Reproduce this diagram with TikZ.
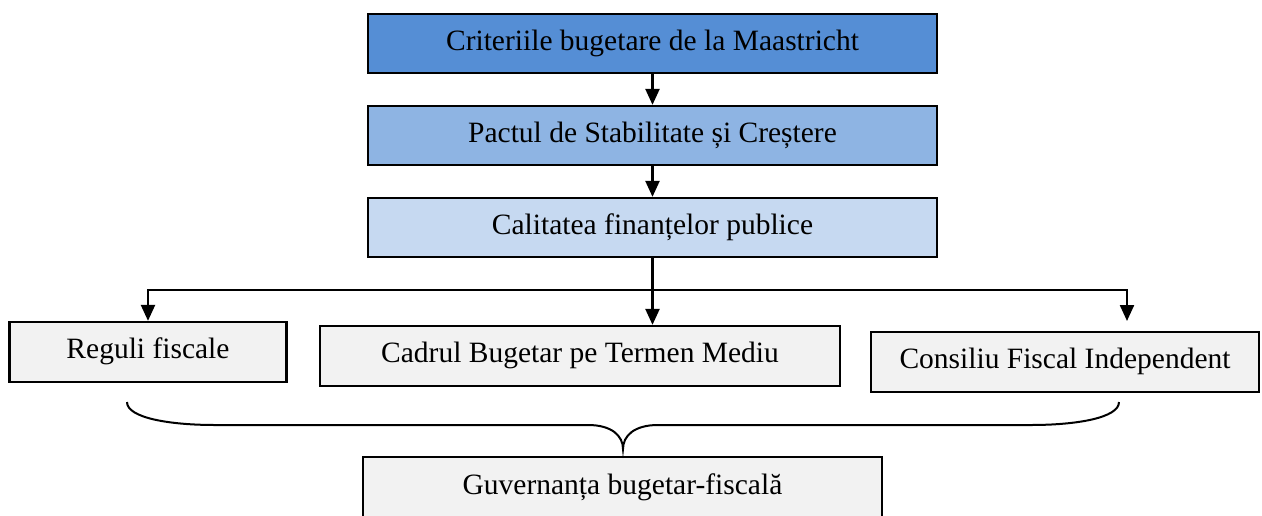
\documentclass[tikz,border=0pt]{standalone}
\usepackage{fontspec}
\setmainfont{Liberation Serif}
\usetikzlibrary{arrows.meta}
\definecolor{blueA}{HTML}{558ED5}
\definecolor{blueB}{HTML}{8EB4E3}
\definecolor{blueC}{HTML}{C6D9F1}
\definecolor{grayF}{HTML}{F2F2F2}
\tikzset{
  txt/.style={font=\fontsize{29.5}{34}\selectfont, text height=20pt, text depth=7pt, inner sep=0pt},
  boxnode/.style={txt, draw=black, line width=2.3pt},
  topbox/.style={boxnode, minimum width=569pt, minimum height=59pt},
  arr/.style={line width=2.3pt, -{Triangle[width=14pt,length=16pt]}},
  plain/.style={line width=2.3pt},
  bracepath/.style={line width=2pt}
}
\begin{document}
\begin{tikzpicture}[x=1pt,y=-1pt]
\useasboundingbox (0,0) rectangle (1262,515);
\node[topbox, fill=blueA] (b1) at (652.5,43.5) {Criteriile bugetare de la Maastricht};
\node[topbox, fill=blueB] (b2) at (652.5,135.5) {Pactul de Stabilitate și Creștere};
\node[topbox, fill=blueC] (b3) at (652.5,227.5) {Calitatea finanțelor publice};
\node[boxnode, fill=grayF, minimum width=277pt, minimum height=60pt] (r1) at (148,352) {Reguli fiscale};
\node[boxnode, fill=grayF, minimum width=520pt, minimum height=60pt] (r2) at (580,356) {Cadrul Bugetar pe Termen Mediu};
\node[boxnode, fill=grayF, minimum width=388pt, minimum height=60pt] (r3) at (1065,362) {Consiliu Fiscal Independent};
\node[boxnode, fill=grayF, minimum width=519pt, minimum height=70pt] (g) at (622.5,492) {};
\node[txt] (gt) at (622.5,488) {Guvernanța bugetar-fiscală};
\draw[arr] (b1.south) -- (b2.north);
\draw[arr] (b2.south) -- (b3.north);
\coordinate (hub) at (652.5,290);
\coordinate (rt) at (1127,321);
\draw[plain] (b3.south) -- (hub);
\draw[arr] (hub) -| (r1.north);
\draw[arr] (hub) -- (hub |- r2.north);
\draw[arr] (hub) -| (rt);
\coordinate (bl) at (127,402);
\coordinate (br) at (1119,402);
\coordinate (bt) at (623,449);
\draw[bracepath] (bl) .. controls (127,418) and (170,425) .. (215,425) -- (588,425)
  .. controls (612,425) and (623,436) .. (bt)
  .. controls (623,436) and (634,425) .. (658,425) -- (1031,425)
  .. controls (1076,425) and (1119,418) .. (br);
\end{tikzpicture}
\end{document}
